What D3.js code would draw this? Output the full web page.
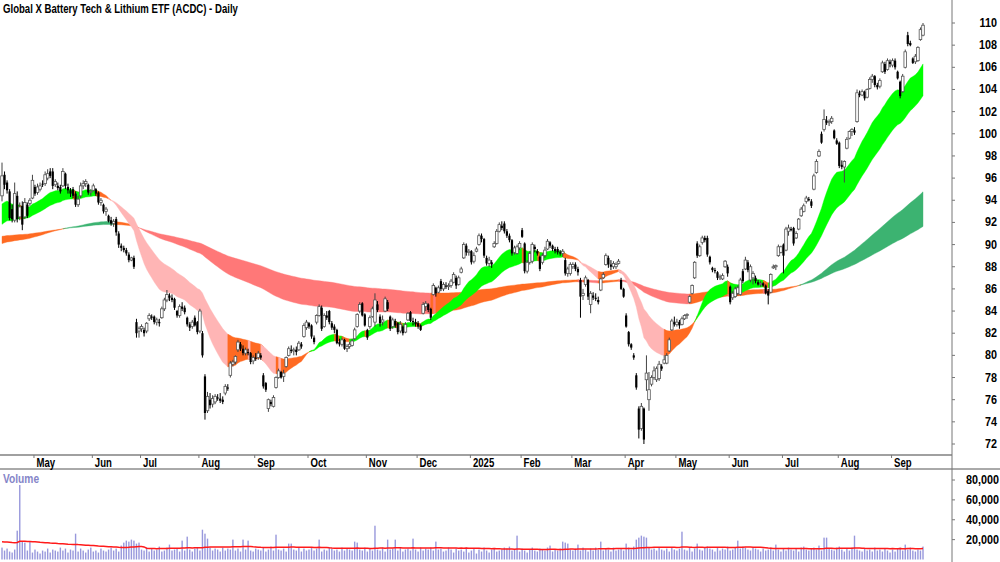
<!DOCTYPE html>
<html>
<head>
<meta charset="utf-8">
<script src="https://cdn.jsdelivr.net/npm/d3@7"></script>
<style>
body{margin:0;background:#fff;}
svg{display:block;}
text{font-family:"Liberation Sans",Arial,sans-serif;font-weight:bold;font-size:12px;fill:#000;}
</style>
</head>
<body>
<svg id="chart" width="1000" height="562"></svg>
<script>
const title = "Global X Battery Tech & Lithium ETF (ACDC) - Daily";

// daily bars: [open, high, low, close]
const ohlc = [
[94.4,97.4,93.9,96.2],[96.3,96.6,95.0,95.4],[95.6,95.8,94.6,94.9],[94.8,95.0,92.2,92.4],[93.2,93.6,92.0,92.3],
[92.2,95.6,92.0,94.6],[94.4,94.8,92.0,92.3],[92.5,93.8,92.2,93.4],[93.5,93.9,91.3,91.8],[92.5,94.2,92.3,93.8],
[93.6,93.8,92.4,92.6],[93.7,94.2,93.5,94.0],[94.2,96.3,94.1,95.8],[95.2,95.4,94.4,94.6],[94.7,95.5,94.5,95.2],
[95.0,95.6,94.8,95.3],[95.5,95.8,95.2,95.4],[95.5,96.6,95.3,96.3],[96.0,96.8,95.8,96.4],[96.6,96.9,96.0,96.2],
[96.6,96.9,95.0,95.3],[95.4,95.9,95.2,95.7],[95.3,95.6,94.9,95.1],[95.2,95.4,94.6,94.8],[95.3,96.9,95.2,96.6],
[96.4,96.5,95.0,95.3],[95.2,95.5,94.6,94.9],[94.9,95.1,94.3,94.6],[95.0,95.2,94.2,94.4],[94.6,94.8,93.4,93.6],
[93.6,94.4,93.4,94.1],[94.4,95.6,94.2,95.3],[95.3,95.8,95.0,95.5],[95.5,95.9,95.2,95.7],[95.4,95.5,94.5,94.7],
[94.7,95.0,94.4,94.8],[94.9,95.5,94.8,95.3],[95.0,95.1,94.4,94.6],[94.7,94.8,93.6,93.8],[93.8,94.2,93.5,94.0],
[93.6,93.7,92.8,93.0],[93.0,93.4,92.6,93.2],[92.6,92.7,92.0,92.1],[92.2,92.5,91.7,91.9],[91.9,92.3,91.6,92.1],
[92.3,92.5,90.8,91.1],[91.0,91.2,89.7,90.0],[89.9,90.1,89.4,89.7],[89.7,89.9,89.3,89.5],[89.5,89.7,89.0,89.2],
[89.1,89.3,88.4,88.6],[88.6,88.9,88.5,88.8],[88.8,89.0,87.8,88.0],[83.0,83.3,81.6,82.0],[82.2,82.6,81.6,82.4],
[82.4,82.8,82.1,82.6],[82.3,82.5,81.7,82.0],[82.2,83.0,82.0,82.9],[83.3,83.8,83.1,83.6],[83.5,83.7,83.2,83.4],
[83.5,83.6,82.8,83.0],[83.0,83.4,82.7,83.2],[83.0,83.3,82.6,82.9],[83.4,84.4,83.3,84.2],[84.2,85.2,84.0,85.0],
[85.0,85.9,84.8,85.5],[85.4,85.6,84.9,85.2],[85.2,85.5,84.8,85.0],[85.1,85.2,84.1,84.3],[84.0,84.1,83.4,83.6],
[83.6,84.6,83.4,84.4],[84.4,84.8,84.0,84.2],[84.3,84.5,83.7,83.9],[83.4,83.5,82.6,82.8],[82.8,83.0,82.2,82.5],
[82.6,83.2,82.4,83.0],[83.4,83.6,82.6,82.7],[83.0,83.1,81.9,82.1],[82.2,84.2,82.0,84.0],[82.0,82.2,79.8,80.0],
[78.1,78.3,74.2,74.8],[75.0,76.7,74.8,76.3],[76.0,76.6,75.2,75.5],[75.6,76.4,75.3,76.1],[75.8,76.5,75.6,76.3],
[76.2,76.5,75.9,76.1],[76.1,76.6,75.7,75.9],[76.0,76.3,75.6,75.8],[76.6,77.4,76.4,77.2],[77.1,77.4,76.8,77.0],
[78.2,79.5,78.0,79.3],[79.2,79.6,79.0,79.4],[79.4,80.0,79.2,79.9],[80.5,81.4,80.3,81.2],[81.0,81.2,80.4,80.6],
[80.6,80.9,80.0,80.2],[80.2,80.7,80.0,80.5],[80.3,80.6,80.0,80.2],[80.2,80.3,79.2,79.4],[79.5,80.0,79.2,79.8],
[79.8,80.2,79.5,79.7],[79.8,80.4,79.6,80.2],[80.0,80.2,79.6,79.8],[78.2,78.4,77.0,77.2],[77.5,77.6,76.7,76.9],
[75.2,76.1,74.9,76.0],[75.8,76.0,75.4,75.6],[75.4,76.4,75.3,76.2],[77.1,78.1,77.0,78.0],[78.0,78.8,77.9,78.6],
[78.5,78.6,77.9,78.0],[78.1,78.7,77.6,78.4],[79.0,79.9,78.9,79.8],[80.0,80.8,79.9,80.6],[80.5,80.9,80.2,80.4],
[80.4,80.7,80.0,80.5],[80.5,80.8,80.0,80.3],[80.5,81.3,80.4,81.1],[81.0,81.2,80.6,80.8],[81.7,82.9,81.6,82.7],
[82.5,83.2,82.3,83.0],[82.9,83.0,82.4,82.6],[82.7,82.8,81.5,81.7],[81.6,81.8,81.0,81.2],[83.0,83.7,82.8,83.6],
[83.6,84.6,83.5,84.4],[84.3,84.5,82.2,82.4],[82.6,83.8,82.5,83.6],[83.6,84.0,83.2,83.4],[84.0,84.1,82.8,83.0],
[82.9,83.1,82.3,82.5],[82.6,82.8,82.0,82.3],[82.3,82.4,81.0,81.1],[81.2,81.5,80.8,81.0],[81.0,81.6,80.8,81.4],
[81.4,81.5,80.5,80.6],[80.6,81.0,80.3,80.8],[80.8,81.2,80.6,81.0],[80.9,81.5,80.8,81.3],[81.5,82.5,81.4,82.3],
[82.6,83.8,82.5,83.7],[84.0,84.8,83.8,84.6],[84.7,84.8,83.5,83.6],[83.7,83.8,82.6,82.7],[82.3,82.4,81.4,81.6],
[82.6,83.6,82.4,83.4],[83.5,84.4,83.4,84.2],[83.0,85.6,82.6,85.0],[84.6,84.9,83.9,84.1],[83.5,83.7,82.6,82.9],
[83.0,83.6,82.7,83.2],[84.0,85.3,83.9,85.1],[84.8,85.0,84.0,84.2],[83.5,83.6,82.2,82.4],[82.6,83.4,82.4,83.2],
[83.1,83.3,82.5,82.7],[82.9,83.0,81.9,82.1],[82.2,83.1,82.0,82.8],[82.6,82.7,81.8,82.0],[82.1,83.0,82.0,82.8],
[83.2,83.9,83.1,83.8],[83.9,84.0,83.0,83.1],[83.1,83.4,82.7,83.0],[83.0,83.3,82.6,82.8],[82.9,83.1,82.4,82.6],
[82.7,82.8,82.2,82.3],[83.8,84.8,83.7,84.6],[84.4,84.9,84.0,84.7],[84.6,84.7,83.9,84.1],[84.2,84.3,83.2,83.4],
[85.5,86.5,85.4,86.3],[86.1,86.2,85.3,85.6],[85.7,86.3,85.6,86.1],[86.7,86.9,85.8,86.0],[86.0,86.6,85.8,86.4],
[86.3,86.6,86.0,86.2],[86.2,86.5,85.9,86.3],[86.3,86.9,86.1,86.7],[86.6,87.5,86.5,87.3],[87.0,87.2,86.0,86.3],
[86.4,87.2,86.3,87.0],[87.5,88.0,87.4,87.8],[88.8,90.2,88.7,90.0],[89.9,90.1,89.0,89.3],[89.3,89.6,89.0,89.4],
[89.4,89.5,88.2,88.4],[88.5,89.3,88.3,89.0],[89.4,89.8,89.3,89.6],[90.0,91.0,89.9,90.8],[90.8,91.0,90.2,90.5],
[90.5,90.6,88.8,89.0],[88.8,89.0,88.1,88.3],[88.3,88.9,88.0,88.6],[88.4,88.6,87.9,88.2],[89.8,90.3,89.7,90.1],
[90.1,91.4,90.0,91.2],[91.2,92.0,91.1,91.8],[91.7,92.1,91.3,91.5],[91.9,92.1,91.0,91.2],[91.2,91.4,90.6,90.8],
[90.8,91.0,90.2,90.4],[90.4,90.5,89.0,89.2],[89.3,89.9,89.1,89.7],[89.2,90.0,89.1,89.8],[89.7,90.3,89.5,90.1],
[91.3,91.5,90.6,90.7],[90.1,90.2,87.4,87.6],[87.6,88.6,87.4,88.4],[88.4,89.4,88.2,89.2],[88.5,90.2,88.3,90.0],
[89.8,90.0,89.3,89.6],[89.4,89.6,89.0,89.2],[88.9,89.0,87.6,87.8],[88.4,89.2,88.2,89.0],[89.0,89.8,88.8,89.5],
[89.6,90.5,89.5,90.3],[90.2,90.3,89.7,89.9],[89.9,90.0,89.4,89.6],[89.6,89.8,89.2,89.4],[89.6,89.8,89.1,89.3],
[89.3,89.5,89.0,89.2],[89.2,89.6,88.9,89.4],[88.6,88.8,87.2,87.4],[87.4,88.0,87.1,87.8],[87.4,88.4,87.2,88.2],
[88.0,88.4,87.8,88.2],[88.2,88.4,87.6,87.8],[87.8,88.0,87.2,87.5],[86.8,87.0,83.4,85.3],[85.4,86.0,85.0,85.6],
[86.4,87.2,86.2,87.0],[86.8,86.9,85.0,85.3],[84.6,85.8,83.8,85.6],[85.4,85.7,85.0,85.2],[85.2,85.6,84.9,85.1],
[85.0,85.3,84.6,84.8],[85.9,87.0,85.8,86.9],[87.0,87.5,86.9,87.3],[88.2,89.2,88.1,89.0],[88.8,89.0,87.9,88.2],
[88.2,88.6,87.7,88.0],[88.0,88.5,87.8,88.3],[88.0,88.4,87.8,88.2],[88.3,88.7,88.2,88.5],[86.8,87.0,85.9,86.0],
[86.0,86.1,85.2,85.3],[83.6,83.8,82.5,82.6],[82.1,82.2,80.8,81.0],[81.0,81.1,80.5,80.7],[80.0,80.2,79.6,79.8],
[78.2,78.4,76.9,77.1],[75.2,75.4,72.5,73.3],[73.4,75.7,73.2,75.4],[75.2,75.3,72.0,72.4],[77.8,80.0,76.8,78.4],
[76.0,78.5,75.0,76.9],[77.4,78.2,77.2,78.0],[78.0,79.0,77.8,78.6],[77.8,79.0,77.6,78.8],[77.9,79.5,77.7,79.2],
[79.0,79.2,78.6,78.8],[79.3,80.0,79.2,79.6],[79.3,80.2,79.2,80.0],[80.4,81.6,80.3,81.4],[82.3,83.3,82.2,83.1],
[83.0,83.5,82.6,82.8],[82.8,83.3,82.6,83.0],[83.0,83.2,82.4,82.7],[82.8,83.5,82.7,83.3],[83.3,83.7,83.2,83.6],
[83.6,83.8,83.3,83.7],[84.8,85.4,84.7,85.3],[85.6,86.4,85.5,86.3],[87.0,88.5,86.9,88.4],[90.1,90.3,88.8,89.0],
[89.0,90.0,88.9,89.8],[90.2,90.8,90.0,90.6],[90.6,90.8,90.2,90.4],[90.6,90.8,88.9,89.1],[88.9,89.0,88.2,88.4],
[87.9,88.0,87.5,87.7],[87.7,87.9,87.4,87.6],[87.5,87.6,86.8,87.0],[87.0,87.3,86.8,87.1],[86.9,87.4,86.8,87.2],
[88.0,88.6,87.9,88.5],[88.0,88.2,87.1,87.4],[86.2,86.3,84.6,84.8],[85.2,85.8,85.0,85.6],[85.3,86.2,85.2,86.0],
[85.6,86.3,85.4,86.1],[85.5,87.0,85.4,86.8],[87.6,87.8,86.5,86.7],[87.8,88.9,87.7,88.6],[88.4,88.6,87.5,87.7],
[86.8,88.2,86.6,88.0],[87.0,87.6,86.4,87.4],[87.0,87.2,86.5,86.7],[86.6,86.8,86.3,86.4],[86.4,86.7,86.2,86.5],
[86.5,86.6,86.2,86.3],[86.3,86.4,85.5,85.6],[85.8,86.0,84.6,85.4],[85.7,87.4,85.6,87.3],[87.9,88.2,87.8,88.0],
[88.0,88.2,87.7,88.1],[89.0,90.0,88.9,89.8],[89.3,89.9,89.2,89.8],[90.0,90.1,87.4,89.0],[89.5,91.6,89.4,91.4],
[91.2,91.8,90.8,91.5],[91.4,91.6,91.2,91.3],[91.5,91.6,89.9,90.1],[90.6,91.2,90.5,91.0],[91.4,92.4,91.3,92.3],
[92.6,93.4,92.5,93.2],[93.0,93.7,92.9,93.5],[93.9,94.4,93.7,94.2],[94.1,94.3,93.9,94.0],[93.9,94.1,93.3,93.5],
[95.0,96.4,94.9,96.2],[96.5,97.7,96.4,97.5],[98.0,98.6,97.9,98.4],[100.0,100.2,99.1,99.2],[100.4,102.2,100.2,101.3],
[101.2,101.6,100.8,101.0],[101.0,101.3,100.7,101.1],[101.1,101.6,100.9,101.4],[100.3,100.4,99.5,99.6],[99.4,99.6,99.0,99.1],
[99.2,99.3,96.9,97.1],[97.2,97.6,96.8,97.0],[97.0,97.6,95.6,97.5],[98.7,99.7,98.6,99.5],[99.6,100.3,99.5,100.2],
[100.2,100.5,99.8,100.4],[100.3,100.6,99.9,100.1],[101.1,104.0,101.0,103.7],[103.6,103.9,103.3,103.5],[103.5,104.0,103.4,103.8],
[103.8,103.9,103.0,103.2],[103.3,104.1,103.2,104.0],[104.1,105.1,104.0,104.9],[104.9,105.4,104.6,105.2],[105.2,105.3,104.2,104.4],
[104.4,104.6,104.0,104.2],[104.3,105.0,104.1,104.8],[105.6,106.6,105.5,106.4],[106.3,106.5,105.4,105.6],[105.8,106.8,105.7,106.6],
[106.5,106.7,106.0,106.3],[106.2,106.8,106.0,106.6],[106.6,106.8,105.8,106.0],[105.6,105.7,104.9,105.0],[104.7,104.8,103.2,103.4],
[103.8,105.4,103.7,105.2],[106.0,107.6,105.9,107.4],[108.9,109.2,107.9,108.1],[108.2,108.4,107.9,108.0],[106.8,106.9,106.3,106.4],
[106.5,107.2,106.3,107.0],[106.6,107.9,106.5,107.8],[108.5,109.6,108.4,109.4],[108.9,110.0,108.8,109.8]
];

// daily volume, thousands of units
const volume = [
12,9,11,8,7,10,29,75,18,17, 9,18,7,10,8,6,9,8,11,7, 10,9,8,12,9,11,7,10,9,26, 8,11,9,7,10,12,8,9,7,11,
9,8,10,12,9,11,8,14,17,19, 18,20,19,16,17,10,9,12,8,11, 9,10,13,8,9,12,15,9,10,11, 8,19,9,23,10,8,11,12,9,30,
26,21,12,9,11,10,8,12,9,11, 10,20,9,11,8,20,10,19,9,8, 11,10,9,12,8,10,13,9,25,10, 9,11,8,16,16,10,9,12,8,11,
9,10,12,9,11,20,8,10,9,12, 11,9,10,8,12,9,11,10,9,18, 17,10,9,12,8,11,9,34,10,9, 12,8,20,10,11,20,9,12,8,10,
11,9,21,10,8,12,9,11,10,12, 9,18,10,11,8,9,12,10,7,11, 9,10,8,12,7,9,11,6,10,8, 12,9,7,10,11,8,9,10,12,11,
13,9,10,24,8,11,9,7,10,12, 9,8,11,10,9,12,14,8,10,9, 11,18,17,16,10,9,11,15,9,12, 10,8,11,9,12,10,18,9,11,10,
8,12,9,10,11,9,16,12,10,13, 20,22,24,23,22,12,10,11,9,12, 10,9,11,8,12,10,9,11,28,10, 9,12,8,11,16,10,9,12,13,11,
10,8,12,9,11,10,13,9,10,12, 19,11,13,12,10,9,12,11,10,8, 11,9,10,12,9,15,10,8,11,9, 12,10,9,11,8,12,13,10,9,11,
12,10,14,9,22,22,11,10,9,12, 13,10,8,11,9,12,24,10,9,8, 11,9,10,8,12,9,10,8,11,9, 7,10,8,11,12,9,15,10,12,9,
8,10,9,13
];

// first bar of each month on the axis
const monthLabels = ["May","Jun","Jul","Aug","Sep","Oct","Nov","Dec","2025","Feb","Mar","Apr","May","Jun","Jul","Aug","Sep"];
const monthStarts = [13,36,55,78,100,121,144,164,185,205,225,246,266,287,308,330,351];

const priceTicks = [72,74,76,78,80,82,84,86,88,90,92,94,96,98,100,102,104,106,108,110];
const volumeTicks = [20,40,60,80];

const shortPeriods = [20, 40], shortSeeds = [93.4, 91.6];
const longPeriods = [140, 250], longSeeds = [90.0, 90.7];
const volMaPeriod = 50, volMaSeed = 18;

const shortColors = {up: "#00ff00", down: "#ffb5b5", mixed: "#ff6a22"};
const longColors = {up: "#3cb371", down: "#ff7878", mixed: "#ff6a22"};

const svg = d3.select("#chart");
const axisX = 952, priceBottom = 455, stripBottom = 469;

const x = d3.scaleLinear().domain([0, ohlc.length - 1]).range([2, 923]);
const y = d3.scaleLinear().domain([72, 110]).range([444, 23]);
const yv = d3.scaleLinear().domain([0, 80]).range([559.5, 480]);

const closes = ohlc.map(d => d[3]);
const ema = (vals, period, seed) => {
	const k = 2 / (period + 1);
	let e = seed;
	return vals.map(v => e = e + k * (v - e));
};

svg.append("clipPath").attr("id", "priceClip")
	.append("rect").attr("x", 0).attr("y", 0).attr("width", axisX).attr("height", priceBottom);
const pricePane = svg.append("g").attr("clip-path", "url(#priceClip)");

// green: fast above slow and slow rising; red: fast below slow and falling; orange otherwise.
// downLine says which average has to be falling for red.
const drawRibbon = (fast, slow, colors, downLine) => {
	const state = fast.map((f, i) => {
		const j = i == 0 ? 1 : i;
		const slowUp = slow[j] > slow[j - 1];
		const falling = downLine == "fast" ? fast[j] < fast[j - 1] : !slowUp;
		if(fast[j] > slow[j] && slowUp) return "up";
		if(fast[j] < slow[j] && falling) return "down";
		return "mixed";
	});
	const runs = [];
	let start = 0;
	for(let i = 1; i <= state.length; i++){
		if(i == state.length || state[i] != state[start]){
			runs.push([start, i]);
			start = i;
		}
	}
	const area = d3.area()
		.x(i => x(i))
		.y0(i => y(slow[i]))
		.y1(i => y(fast[i]));
	pricePane.append("g")
		.selectAll("path")
		.data(runs)
		.enter()
		.append("path")
		.attr("d", r => area(d3.range(Math.max(0, r[0] - 1), Math.min(state.length, r[1] + 1))))
		.attr("fill", r => colors[state[r[0]]])
		.attr("stroke", r => colors[state[r[0]]])
		.attr("stroke-width", 0.4);
};

const longFast = ema(closes, longPeriods[0], longSeeds[0]);
const longSlow = ema(closes, longPeriods[1], longSeeds[1]);
const shortFast = ema(closes, shortPeriods[0], shortSeeds[0]);
const shortSlow = ema(closes, shortPeriods[1], shortSeeds[1]);
drawRibbon(longFast, longSlow, longColors, "slow");
drawRibbon(shortFast, shortSlow, shortColors, "fast");

// candles
const candles = pricePane.append("g")
	.selectAll("g")
	.data(ohlc)
	.enter()
	.append("g");
candles.append("line")
	.attr("x1", (d, i) => x(i)).attr("x2", (d, i) => x(i))
	.attr("y1", d => y(d[1])).attr("y2", d => y(d[2]))
	.attr("stroke", d => d[3] >= d[0] ? "#444" : "#000")
	.attr("stroke-width", 1);
candles.append("rect")
	.attr("x", (d, i) => d[3] >= d[0] ? x(i) - 1.3 : x(i) - 1.1)
	.attr("width", d => d[3] >= d[0] ? 2.6 : 2.2)
	.attr("y", d => y(Math.max(d[0], d[3])))
	.attr("height", d => Math.max(1, Math.abs(y(d[0]) - y(d[3]))))
	.attr("fill", d => d[3] >= d[0] ? "#fff" : "#000")
	.attr("stroke", d => d[3] >= d[0] ? "#555" : "none")
	.attr("stroke-width", 0.8);

// volume bars and moving average
svg.append("g")
	.selectAll("rect")
	.data(volume)
	.enter()
	.append("rect")
	.attr("x", (d, i) => x(i) - 0.7)
	.attr("width", 1.4)
	.attr("y", d => yv(d))
	.attr("height", d => yv(0) - yv(d))
	.attr("fill", "#9898dc");

const volMa = volume.map((v, i) => {
	let s = 0;
	for(let j = i - volMaPeriod + 1; j <= i; j++) s += j < 0 ? volMaSeed : volume[j];
	return s / volMaPeriod;
});
svg.append("path")
	.datum(volMa)
	.attr("d", d3.line().x((d, i) => x(i)).y(d => yv(d)))
	.attr("fill", "none")
	.attr("stroke", "#ff1a1a")
	.attr("stroke-width", 1.5);

// frame lines
svg.append("line").attr("x1", 0).attr("x2", axisX).attr("y1", priceBottom).attr("y2", priceBottom)
	.attr("stroke", "#a0a0a0").attr("stroke-width", 2);
svg.append("line").attr("x1", 0).attr("x2", 1000).attr("y1", stripBottom).attr("y2", stripBottom)
	.attr("stroke", "#555").attr("stroke-width", 1);
svg.append("line").attr("x1", axisX).attr("x2", axisX).attr("y1", 0).attr("y2", 562)
	.attr("stroke", "#777").attr("stroke-width", 1);

// month axis
const months = svg.append("g");
months.selectAll("line")
	.data(monthStarts)
	.enter()
	.append("line")
	.attr("x1", d => x(d) - 1).attr("x2", d => x(d) - 1)
	.attr("y1", priceBottom).attr("y2", priceBottom + 3)
	.attr("stroke", "#777");
months.selectAll("text")
	.data(monthStarts)
	.enter()
	.append("text")
	.attr("transform", d => "translate(" + (x(d) + 1.5) + "," + (priceBottom + 12) + ") scale(0.8,1)")
	.text((d, i) => monthLabels[i]);

// right price axis
const priceAxis = svg.append("g");
priceAxis.selectAll("line")
	.data(priceTicks)
	.enter()
	.append("line")
	.attr("x1", axisX).attr("x2", axisX + 3)
	.attr("y1", d => y(d)).attr("y2", d => y(d))
	.attr("stroke", "#777");
priceAxis.selectAll("text")
	.data(priceTicks)
	.enter()
	.append("text")
	.attr("text-anchor", "end")
	.attr("transform", d => "translate(997," + (y(d) + 4) + ") scale(0.9,1)")
	.text(d => d);

// right volume axis
const volAxis = svg.append("g");
volAxis.selectAll("line")
	.data(volumeTicks)
	.enter()
	.append("line")
	.attr("x1", axisX).attr("x2", axisX + 3)
	.attr("y1", d => yv(d)).attr("y2", d => yv(d))
	.attr("stroke", "#777");
volAxis.selectAll("text")
	.data(volumeTicks)
	.enter()
	.append("text")
	.attr("text-anchor", "end")
	.attr("transform", d => "translate(999," + (yv(d) + 4) + ") scale(0.9,1)")
	.text(d => d3.format(",")(d * 1000));

// labels
svg.append("text")
	.attr("transform", "translate(3,13) scale(0.8,1)")
	.text(title);
svg.append("text")
	.attr("transform", "translate(3,483) scale(0.85,1)")
	.style("fill", "#8585c8")
	.text("Volume");
</script>
</body>
</html>
